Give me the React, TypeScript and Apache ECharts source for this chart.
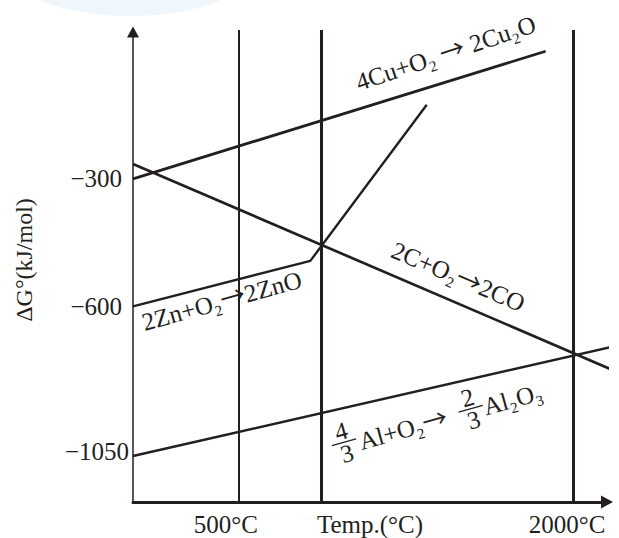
import React, { useEffect, useRef } from 'react';
import * as echarts from 'echarts';

const cuTemp = [25, 1875];
const cuDG = [-300, 0];
const cTemp = [25, 2176];
const cDG = [-265, -797];
const znTemp = [25, 820, 1342];
const znDG = [-600, -493, -126];
const alTemp = [25, 2203];
const alDG = [-1063, -720];
const markTemps = [500, 870, 2000];
const xTickTemps = [500, 2000];
const xTickLabels = ['500°C', '2000°C'];
const yTickDG = [-300, -600, -1050];
const yTickLabels = ['−300', '−600', '−1050'];

const cuLabel = '4Cu+O₂ → 2Cu₂O';
const cLabel = '2C+O₂→2CO';
const znLabel = '2Zn+O₂→2ZnO';
const alLeftFrac = ['4', '3'];
const alMiddle = 'Al+O₂→';
const alRightFrac = ['2', '3'];
const alRight = 'Al₂O₃';

// ---- styling ----
const W = 619;
const H = 538;
const FONT = '"Liberation Serif", "Times New Roman", Times, serif';
const FONT_RXN = '"ArrowSerif", "Liberation Serif", "Times New Roman", Times, serif';
const INK = '#231f20';
const FS = 25;
const DEG = Math.PI / 180;
const markWidths = [2, 3, 3];
const xLabelPadRight = [26, 13];
const yLabelPadRight = [7, 7, 0];
const WATERMARK = '#eff6fc';

// the ΔG axis of the drawing is compressed below −600 kJ/mol
const BREAK = -600;
const SQUEEZE = 0.76;
const warp = (g: number) => (g >= BREAK ? g : BREAK + (g - BREAK) * SQUEEZE);
const pts = (ts: number[], gs: number[]) => ts.map((t, i) => [t, warp(gs[i])]);

// label anchors (temperature, ΔG) and rotation in degrees
const labelPlaces = {
  cu: { t: 1427, g: -4, rot: 18.5 },
  c: { t: 1483, g: -530, rot: -23 },
  zn: { t: 423, g: -587, rot: 15.5 },
  al: { t: 1050, g: -1044, rot: 15.5 },
};

export default function App() {
  const ref = useRef<HTMLDivElement>(null);

  useEffect(() => {
    document.body.style.margin = '0';
    const chart = echarts.init(ref.current!, null, { renderer: 'svg', width: W, height: H });

    const lineSeries = (name: string, data: number[][], width: number) => ({
      type: 'line',
      name,
      data,
      showSymbol: false,
      symbol: 'none',
      clip: false,
      silent: true,
      z: 3,
      lineStyle: { color: INK, width },
    });

    const xRich: any = {};
    xTickLabels.forEach((_, i) => {
      xRich['x' + i] = {
        fontFamily: FONT,
        fontSize: FS,
        lineHeight: 22,
        color: INK,
        padding: [0, xLabelPadRight[i], 0, 0],
      };
    });
    const yRich: any = {};
    yTickLabels.forEach((_, i) => {
      yRich['y' + i] = { fontFamily: FONT, fontSize: FS, color: INK, padding: [0, yLabelPadRight[i], 0, 0] };
    });

    chart.setOption({
      animation: false,
      backgroundColor: '#ffffff',
      grid: { left: 133, right: 12, top: 30, bottom: 36, outerBoundsMode: 'none', containLabel: false },
      xAxis: {
        type: 'value',
        min: 25,
        max: 2150,
        splitLine: { show: false },
        axisTick: { show: false },
        axisLine: {
          show: true,
          onZero: false,
          symbol: ['none', 'triangle'],
          symbolSize: [13, 12],
          lineStyle: { color: INK, width: 3 },
        },
        axisLabel: {
          customValues: xTickTemps,
          margin: 11,
          fontFamily: FONT,
          fontSize: FS,
          lineHeight: 22,
          color: INK,
          formatter: (v: number) => {
            const i = xTickTemps.indexOf(v);
            return i < 0 ? '' : `{x${i}|${xTickLabels[i]}}`;
          },
          rich: xRich,
        },
        name: 'Temp.(°C)',
        nameLocation: 'middle',
        nameGap: 11,
        nameMoveOverlap: false,
        nameTextStyle: { fontFamily: FONT, fontSize: FS, lineHeight: 22, color: INK },
      },
      yAxis: {
        type: 'value',
        min: -1060,
        max: 50,
        splitLine: { show: false },
        axisTick: { show: false },
        axisLine: {
          show: true,
          onZero: false,
          symbol: ['none', 'triangle'],
          symbolSize: [12, 11],
          symbolOffset: [0, -2],
          lineStyle: { color: INK, width: 1.5 },
        },
        axisLabel: {
          customValues: yTickDG.map(warp),
          margin: 4,
          fontFamily: FONT,
          fontSize: FS,
          color: INK,
          formatter: (v: number) => {
            const i = yTickDG.findIndex((g) => Math.abs(warp(g) - v) < 0.01);
            return i < 0 ? '' : `{y${i}|${yTickLabels[i]}}`;
          },
          rich: yRich,
        },
        name: 'ΔG°(kJ/mol)',
        nameLocation: 'middle',
        nameGap: 97,
        nameMoveOverlap: false,
        nameTextStyle: { fontFamily: FONT, fontSize: 24, color: INK, padding: [0, 0, 0, 12] },
      },
      series: [
        {
          ...lineSeries('4Cu+O2→2Cu2O', pts(cuTemp, cuDG), 2.8),
          markLine: {
            silent: true,
            symbol: ['none', 'none'],
            label: { show: false },
            lineStyle: { type: 'solid', color: INK },
            data: markTemps.map((t, i) => ({
              xAxis: t,
              lineStyle: { type: 'solid', color: INK, width: markWidths[i] },
            })),
          },
        },
        lineSeries('2C+O2→2CO', pts(cTemp, cDG), 2.7),
        lineSeries('2Zn+O2→2ZnO', pts(znTemp, znDG), 2.4),
        lineSeries('4/3Al+O2→2/3Al2O3', pts(alTemp, alDG), 2.4),
      ],
    });

    const toPx = (t: number, g: number) =>
      chart.convertToPixel({ gridIndex: 0 }, [t, warp(g)]) as unknown as number[];
    const ts = (text: string, align: string = 'center', size: number = FS) => ({
      text,
      fontFamily: FONT_RXN,
      fontSize: size,
      fill: INK,
      align,
      verticalAlign: 'middle',
      textAlign: align,
      textVerticalAlign: 'middle',
    });
    const textAt = (p: { t: number; g: number; rot: number }, text: string) => {
      const [x, y] = toPx(p.t, p.g);
      return { type: 'text', x, y, rotation: p.rot * DEG, silent: true, style: ts(text) };
    };

    const [ax, ay] = toPx(labelPlaces.al.t, labelPlaces.al.g);
    const f1u = -15;
    const f1v = -12;
    const f2u = 116;
    const f2v = -10.5;
    const bar = (u: number, v: number) => ({
      type: 'line',
      silent: true,
      shape: { x1: u - 12.5, y1: v, x2: u + 12.5, y2: v },
      style: { stroke: INK, lineWidth: 1.3 },
    });

    chart.setOption({
      graphic: [
        {
          type: 'ellipse',
          silent: true,
          z: -10,
          shape: { cx: 130, cy: -30, rx: 120, ry: 46 },
          style: { fill: WATERMARK },
        },
        textAt(labelPlaces.cu, cuLabel),
        textAt(labelPlaces.c, cLabel),
        textAt(labelPlaces.zn, znLabel),
        {
          type: 'group',
          x: ax,
          y: ay,
          rotation: labelPlaces.al.rot * DEG,
          silent: true,
          children: [
            { type: 'text', x: f1u, y: f1v - 11.5, style: ts(alLeftFrac[0]) },
            bar(f1u, f1v),
            { type: 'text', x: f1u, y: f1v + 11.5, style: ts(alLeftFrac[1]) },
            { type: 'text', x: 0, y: -8.4, style: ts(alMiddle, 'left') },
            { type: 'text', x: f2u, y: f2v - 11.5, style: ts(alRightFrac[0]) },
            bar(f2u, f2v),
            { type: 'text', x: f2u, y: f2v + 11.5, style: ts(alRightFrac[1]) },
            { type: 'text', x: 129, y: -8.4, style: ts(alRight, 'left') },
          ],
        },
      ],
    });

    return () => chart.dispose();
  }, []);

  return (
    <>
      <style>{`@font-face { font-family: "ArrowSerif"; src: local("Noto Sans CJK SC"), local("NotoSansCJKsc-Regular"), local("Noto Sans CJK SC Regular"), local("DejaVu Sans"); unicode-range: U+2190-21FF; size-adjust: 100%; }`}</style>
      <div
        ref={ref}
        style={{ position: 'fixed', left: 0, top: 0, width: W, height: H, background: '#fff' }}
      />
    </>
  );
}
